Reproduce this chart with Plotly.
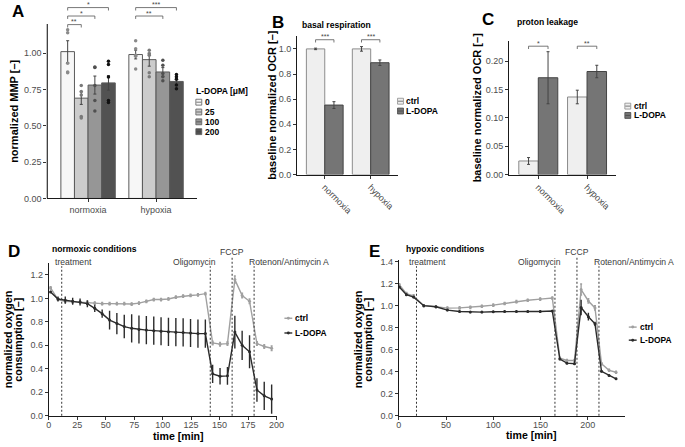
import plotly.graph_objects as go

W, H = 685, 447
FONT = "Liberation Sans, Arial, sans-serif"

# ---------------- data ----------------
# A: normalized MMP, grouped by condition and L-DOPA dose
conditions = ["normoxia", "hypoxia"]
doses = ["0", "25", "100", "200"]
mmp_0 = [1.01, 0.99]
mmp_25 = [0.69, 0.955]
mmp_100 = [0.78, 0.87]
mmp_200 = [0.795, 0.805]
mmp_err_0 = [0.075, 0.03]
mmp_err_25 = [0.043, 0.045]
mmp_err_100 = [0.062, 0.03]
mmp_err_200 = [0.05, 0.022]
mmp_pts_0 = [[1.16, 1.14, 0.93, 0.87, 0.865], [1.085, 1.03, 0.985, 0.978, 0.89]]
mmp_pts_25 = [[0.777, 0.736, 0.711, 0.563, 0.554], [1.02, 0.995, 0.985, 0.865, 0.838]]
mmp_pts_100 = [[0.905, 0.90, 0.777, 0.674, 0.601], [0.95, 0.917, 0.86, 0.838, 0.81]]
mmp_pts_200 = [[0.944, 0.921, 0.836, 0.674, 0.66], [0.853, 0.838, 0.82, 0.78, 0.755]]
# (condition, dose index a, dose index b, bracket height, stars)
sig_A = [(0, 0, 1, 1.196, "**"), (0, 0, 2, 1.255, "*"), (0, 0, 3, 1.313, "*"),
         (1, 0, 2, 1.255, "**"), (1, 0, 3, 1.313, "***")]

# B: basal respiration, C: proton leakage
groups = ["ctrl", "L-DOPA"]
basal_ctrl = [1.0, 1.0]
basal_ldopa = [0.553, 0.89]
basal_ctrl_err = [0.006, 0.018]
basal_ldopa_err = [0.027, 0.022]
sig_B = [(0, 1.073, "***"), (1, 1.073, "***")]
leak_ctrl = [0.024, 0.137]
leak_ldopa = [0.171, 0.182]
leak_ctrl_err = [0.006, 0.012]
leak_ldopa_err = [0.046, 0.011]
sig_C = [(0, 0.2267, "*"), (1, 0.2267, "**")]

# D: normoxic oxygen consumption time course
injections = ["treatment", "Oligomycin", "FCCP", "Rotenon/Antimycin A"]
inj_time_norm = [11.4, 141.8, 161.0, 180.3]
t_norm = [1.6, 8.1, 14.5, 21.0, 27.5, 33.9, 40.4, 46.9, 53.4, 59.8, 66.3, 72.8,
          79.2, 85.7, 92.2, 98.6, 105.1, 111.6, 118.0, 124.5, 131.0, 137.5,
          143.9, 150.4, 156.9, 163.4, 169.8, 176.3, 182.8, 189.2, 195.7]
ctrl_norm = [1.09, 0.99, 0.975, 0.97, 0.97, 0.965, 0.96, 0.955, 0.955, 0.955, 0.955,
             0.952, 0.96, 0.975, 0.99, 0.99, 0.995, 1.01, 1.02, 1.025, 1.03, 1.04,
             0.62, 0.61, 0.615, 1.16, 1.025, 0.975, 0.615, 0.59, 0.575]
ctrl_norm_err = [0.01, 0.01, 0.01, 0.01, 0.01, 0.01, 0.01, 0.01, 0.01, 0.01, 0.01,
                 0.01, 0.01, 0.01, 0.01, 0.01, 0.01, 0.01, 0.01, 0.01, 0.01, 0.01,
                 0.015, 0.015, 0.015, 0.03, 0.02, 0.02, 0.015, 0.015, 0.02]
ldopa_norm = [1.055, 0.995, 0.985, 0.975, 0.97, 0.955, 0.915, 0.87, 0.815, 0.785, 0.76,
              0.745, 0.735, 0.73, 0.725, 0.72, 0.715, 0.712, 0.71, 0.705, 0.70, 0.70,
              0.357, 0.337, 0.34, 0.713, 0.60, 0.545, 0.22, 0.17, 0.142]
ldopa_norm_err = [0.01, 0.02, 0.03, 0.03, 0.03, 0.03, 0.03, 0.035, 0.08, 0.09, 0.1,
                  0.12, 0.12, 0.12, 0.12, 0.12, 0.12, 0.12, 0.12, 0.12, 0.12, 0.12,
                  0.077, 0.07, 0.075, 0.14, 0.125, 0.14, 0.1, 0.12, 0.125]

# E: hypoxic oxygen consumption time course
inj_time_hyp = [18.7, 165.3, 188.6, 211.9]
t_hyp = [0.5, 8.0, 15.6, 26.4, 39.3, 51.4, 64.3, 75.7, 87.9, 100.0, 112.0, 124.5,
         136.5, 149.7, 162.5, 170.5, 178.0, 186.0, 193.0, 200.7, 207.7, 214.6,
         222.6, 230.0]
ctrl_hyp = [1.19, 1.11, 1.09, 1.0, 0.99, 0.978, 0.98, 0.985, 0.995, 1.005, 1.02,
            1.037, 1.049, 1.06, 1.07, 0.523, 0.502, 0.502, 1.147, 1.043, 0.98,
            0.473, 0.413, 0.395]
ctrl_hyp_err = [0.01, 0.01, 0.01, 0.01, 0.01, 0.01, 0.01, 0.01, 0.01, 0.01, 0.01,
                0.01, 0.01, 0.01, 0.01, 0.01, 0.01, 0.01, 0.05, 0.02, 0.02, 0.01,
                0.01, 0.01]
ldopa_hyp = [1.17, 1.10, 1.078, 1.0, 0.99, 0.96, 0.948, 0.942, 0.942, 0.945, 0.948,
             0.948, 0.948, 0.948, 0.952, 0.515, 0.478, 0.473, 0.984, 0.9, 0.835,
             0.404, 0.366, 0.336]
ldopa_hyp_err = [0.01, 0.01, 0.01, 0.01, 0.01, 0.01, 0.01, 0.01, 0.01, 0.01, 0.01,
                 0.01, 0.01, 0.01, 0.01, 0.01, 0.01, 0.01, 0.07, 0.035, 0.02, 0.01,
                 0.01, 0.01]

# ---------------- styling ----------------
dose_fill = ["#f7f7f7", "#cccccc", "#969696", "#525252"]
dose_dot = ["#8a8a8a", "#7a7a7a", "#505050", "#111111"]
group_fill = ["#efefef", "#757575"]
group_edge = ["#8c8c8c", "#444444"]
line_col = ["#a0a0a0", "#2b2b2b"]
TICK_COL = "#4d4d4d"


def px_x(px):
    return px / W


def px_y(py):
    return 1 - py / H


fig = go.Figure()
shapes = []
annotations = []


def text(s, x, y, size=9, bold=False, color="#000", xanchor="center", yanchor="middle",
         angle=0, xref="paper", yref="paper", xshift=0, yshift=0):
    if bold:
        s = "<b>" + s + "</b>"
    annotations.append(dict(text=s, x=x, y=y, xref=xref, yref=yref, showarrow=False,
                            xanchor=xanchor, yanchor=yanchor, textangle=angle,
                            xshift=xshift, yshift=yshift, borderpad=0,
                            font=dict(family=FONT, size=size, color=color)))


def bracket(xref, yref, x0, x1, y, drop, stars):
    shapes.append(dict(type="path", xref=xref, yref=yref,
                       path=f"M{x0},{y - drop} L{x0},{y} L{x1},{y} L{x1},{y - drop}",
                       line=dict(color="#555", width=0.8)))
    text(stars, (x0 + x1) / 2, y, size=7, color="#444", xref=xref, yref=yref, yshift=3)


# ---------------- A ----------------
mmp_means = [mmp_0, mmp_25, mmp_100, mmp_200]
mmp_errs = [mmp_err_0, mmp_err_25, mmp_err_100, mmp_err_200]
mmp_pts = [mmp_pts_0, mmp_pts_25, mmp_pts_100, mmp_pts_200]
bw = 0.8 / len(doses)
offA = [(j - (len(doses) - 1) / 2) * bw for j in range(len(doses))]
for j, d in enumerate(doses):
    xs = [i + offA[j] for i in range(len(conditions))]
    fig.add_trace(go.Bar(x=xs, y=mmp_means[j], width=bw, xaxis="x", yaxis="y",
                         marker=dict(color=dose_fill[j], line=dict(color="#5a5a5a", width=1)),
                         error_y=dict(type="data", array=mmp_errs[j], color="#444",
                                      thickness=1, width=1.5),
                         showlegend=False))
    dx, dy = [], []
    for i in range(len(conditions)):
        dx += [xs[i]] * len(mmp_pts[j][i])
        dy += mmp_pts[j][i]
    fig.add_trace(go.Scatter(x=dx, y=dy, mode="markers", xaxis="x", yaxis="y",
                             marker=dict(size=3.5, color=dose_dot[j]), showlegend=False))
for ci, a, b, y, s in sig_A:
    bracket("x", "y", ci + offA[a], ci + offA[b], y, 0.02, s)
# y axis line only up to 1.2 (brackets sit above the panel)
shapes.append(dict(type="line", xref="x domain", yref="y", x0=0, x1=0, y0=0, y1=1.2,
                   line=dict(color="#1a1a1a", width=1.1)))

# ---------------- B, C ----------------
bw2 = 0.8 / len(groups)
off2 = [(j - (len(groups) - 1) / 2) * bw2 for j in range(len(groups))]
for ax, means, errs in (("2", [basal_ctrl, basal_ldopa], [basal_ctrl_err, basal_ldopa_err]),
                        ("3", [leak_ctrl, leak_ldopa], [leak_ctrl_err, leak_ldopa_err])):
    for j, g in enumerate(groups):
        xs = [i + off2[j] for i in range(len(conditions))]
        fig.add_trace(go.Bar(x=xs, y=means[j], width=bw2, xaxis="x" + ax, yaxis="y" + ax,
                             marker=dict(color=group_fill[j], line=dict(color=group_edge[j], width=1)),
                             error_y=dict(type="data", array=errs[j], color="#444",
                                          thickness=1, width=1.5),
                             showlegend=False))
for ci, y, s in sig_B:
    bracket("x2", "y2", ci + off2[0], ci + off2[1], y, 0.022, s)
for ci, y, s in sig_C:
    bracket("x3", "y3", ci + off2[0], ci + off2[1], y, 0.005, s)

# ---------------- D, E ----------------
for ax, t, series, errs in (("4", t_norm, [ctrl_norm, ldopa_norm], [ctrl_norm_err, ldopa_norm_err]),
                            ("5", t_hyp, [ctrl_hyp, ldopa_hyp], [ctrl_hyp_err, ldopa_hyp_err])):
    for j, g in enumerate(groups):
        fig.add_trace(go.Scatter(x=t, y=series[j], mode="lines+markers", xaxis="x" + ax,
                                 yaxis="y" + ax, line=dict(color=line_col[j], width=1.4),
                                 marker=dict(size=3, color=line_col[j]),
                                 error_y=dict(type="data", array=errs[j], color=line_col[j],
                                              thickness=1.4, width=1 if j == 0 else 0),
                                 showlegend=False))

for ax, times, shifts in (("x4", inj_time_norm, [-8, 7, 0, -6]),
                          ("x5", inj_time_hyp, [-8, 7, 0, -6])):
    for k, (name, tt) in enumerate(zip(injections, times)):
        top = 258 if name == "FCCP" else 268
        shapes.append(dict(type="line", xref=ax, yref="paper", x0=tt, x1=tt,
                           y0=px_y(420.3), y1=px_y(top),
                           line=dict(color="#333", width=1, dash="2px,2px")))
        anchor = ["left", "right", "center", "left"][k]
        text(name, tt, px_y(254 if name == "FCCP" else 264), size=8.6, color="#3a3a3a",
             xanchor=anchor, xref=ax, xshift=shifts[k])

# ---------------- axes ----------------
axis = dict(showgrid=False, zeroline=False, showline=True, linecolor="#1a1a1a",
            linewidth=1.1, ticks="outside", ticklen=3, tickwidth=1, tickcolor="#333",
            tickfont=dict(family=FONT, size=9, color=TICK_COL))

cat_ticks = dict(tickmode="array", tickvals=list(range(len(conditions))), ticktext=conditions)

layout_axes = dict(
    xaxis=dict(axis, domain=[px_x(45), px_x(197)], range=[-0.6, 1.6], anchor="y", **cat_ticks),
    yaxis=dict(axis, domain=[px_y(199), px_y(199 - 1.33 * 148)], range=[0, 1.33], anchor="x",
               showline=False, tickmode="array", tickvals=[0, 0.25, 0.5, 0.75, 1.0],
               tickformat=".2f"),
    xaxis2=dict(axis, domain=[px_x(299), px_x(401.7)], range=[-0.6, 1.6], anchor="y2",
                tickangle=45, **cat_ticks),
    yaxis2=dict(axis, domain=[px_y(174.7), px_y(33.3)], range=[0, 1.105], anchor="x2",
                dtick=0.2, tickformat=".1f"),
    xaxis3=dict(axis, domain=[px_x(514.3), px_x(623.3)], range=[-0.6, 1.6], anchor="y3",
                tickangle=45, **cat_ticks),
    yaxis3=dict(axis, domain=[px_y(174.7), px_y(39.2)], range=[0, 0.235], anchor="x3",
                dtick=0.05, tickformat=".2f"),
    xaxis4=dict(axis, domain=[px_x(46.5), px_x(278)], range=[0, 200], anchor="y4", dtick=25,
                ticklabelstandoff=-3),
    yaxis4=dict(axis, domain=[px_y(420.3), px_y(264.9)], range=[0, 1.3], anchor="x4",
                dtick=0.2, tickformat=".1f"),
    xaxis5=dict(axis, domain=[px_x(402.3), px_x(631.7)], range=[0, 239], anchor="y5", dtick=50,
                ticklabelstandoff=-3),
    yaxis5=dict(axis, domain=[px_y(420.3), px_y(261.7)], range=[0, 1.415], anchor="x5",
                dtick=0.2, tickformat=".1f"),
)

# ---------------- titles & labels ----------------
for s, x, y in (("A", 15, 9), ("B", 279, 20), ("C", 493, 17), ("D", 11, 252.7), ("E", 378, 252.7)):
    text(s, px_x(x), px_y(y), size=17, bold=True)
text("basal respiration", px_x(303), px_y(22.3), size=8.6, bold=True, xanchor="left")
text("proton leakage", px_x(521.7), px_y(19), size=8.6, bold=True, xanchor="left")
text("normoxic conditions", px_x(48.3), px_y(250), size=8.6, bold=True, xanchor="left")
text("hypoxic conditions", px_x(409), px_y(250.7), size=8.6, bold=True, xanchor="left")

text("normalized MMP [–]", px_x(10.5), px_y(110.5), size=11, bold=True, angle=-90)
text("baseline normalized OCR [–]", px_x(274), px_y(104), size=11, bold=True, angle=-90)
text("baseline normalized OCR [–]", px_x(482), px_y(107), size=11, bold=True, angle=-90)
for x0 in (6, 361.7):
    text("normalized oxygen", px_x(x0), px_y(342.6), size=10.8, bold=True, angle=-90)
    text("consumption [–]", px_x(x0 + 9.5), px_y(342.6), size=10.8, bold=True, angle=-90)
text("time [min]", px_x(178), px_y(441), size=10.6, bold=True)
text("time [min]", px_x(537), px_y(440), size=10.6, bold=True)


# ---------------- legends (drawn by hand for ggplot-like spacing) ----------------
def box_key(x, y, fill, edge, label):
    shapes.append(dict(type="rect", xref="paper", yref="paper", x0=px_x(x), x1=px_x(x + 6),
                       y0=px_y(y + 3), y1=px_y(y - 3), fillcolor=fill,
                       line=dict(color=edge, width=0.8)))
    shapes.append(dict(type="line", xref="paper", yref="paper", x0=px_x(x + 0.5), x1=px_x(x + 5.5),
                       y0=px_y(y), y1=px_y(y), line=dict(color="#444", width=0.7)))
    text(label, px_x(x + 8), px_y(y), size=8.5, bold=True, xanchor="left")


def line_key(x, y, color, label):
    shapes.append(dict(type="line", xref="paper", yref="paper", x0=px_x(x - 4), x1=px_x(x + 4),
                       y0=px_y(y), y1=px_y(y), line=dict(color=color, width=1.4)))
    shapes.append(dict(type="circle", xref="paper", yref="paper", x0=px_x(x - 1.5), x1=px_x(x + 1.5),
                       y0=px_y(y + 1.5), y1=px_y(y - 1.5), fillcolor=color, line=dict(width=0)))
    text(label, px_x(x + 6), px_y(y), size=8.4, bold=True, xanchor="left")


text("L-DOPA [μM]", px_x(195), px_y(90), size=8.5, bold=True, xanchor="left")
for j, d in enumerate(doses):
    box_key(196, 101 + 10 * j, dose_fill[j], "#5a5a5a", d)
for j, g in enumerate(groups):
    box_key(401, 100 + 10 * j, group_fill[j], group_edge[j], g)
    box_key(632, 105 + 9.5 * j, group_fill[j], group_edge[j], g)
    line_key(290, 321 + 15 * j, line_col[j], g)
    line_key(640, 330 + 13.3 * j, line_col[j], g)

fig.update_layout(
    width=W, height=H, autosize=False,
    margin=dict(l=0, r=0, t=0, b=0),
    paper_bgcolor="white", plot_bgcolor="white",
    barmode="overlay", showlegend=False,
    font=dict(family=FONT, size=9, color="#000"),
    shapes=shapes, annotations=annotations,
    **layout_axes,
)

# the page's default body margin would push the figure 8px off the window
fig.write_html("out.html", config={"displayModeBar": False},
               post_script="document.body.style.margin='0';document.body.style.overflow='hidden';")
